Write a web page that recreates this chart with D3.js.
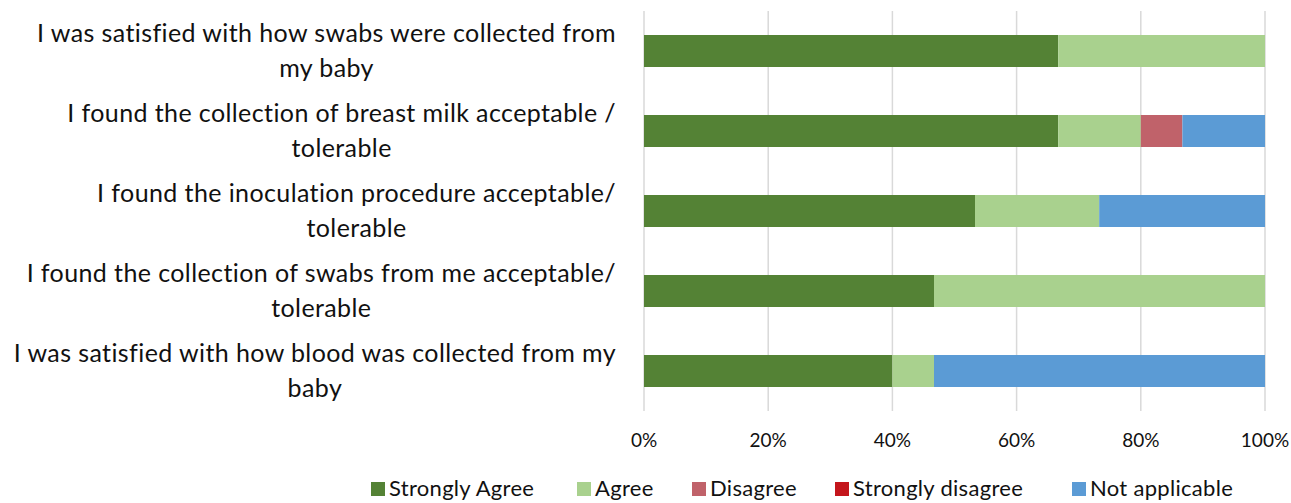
<!DOCTYPE html>
<html>
<head>
<meta charset="utf-8">
<script src="https://cdn.jsdelivr.net/npm/d3@7"></script>
<style>
  body { margin: 0; background: #fff; }
  text { font-family: Lato, "Open Sans", sans-serif; fill: #111; }
</style>
</head>
<body>
<div id="chart"></div>
<script>
var categories = [
  ["I was satisfied with how swabs were collected from", "my baby"],
  ["I found the collection of breast milk acceptable /", "tolerable"],
  ["I found the inoculation procedure acceptable/", "tolerable"],
  ["I found the collection of swabs from me acceptable/", "tolerable"],
  ["I was satisfied with how blood was collected from my", "baby"]
];
var seriesNames = ["Strongly Agree", "Agree", "Disagree", "Strongly disagree", "Not applicable"];
var stronglyAgree    = [66.7, 66.7, 53.3, 46.7, 40.0];
var agree            = [33.3, 13.3, 20.0, 53.3, 6.7];
var disagree         = [0, 6.7, 0, 0, 0];
var stronglyDisagree = [0, 0, 0, 0, 0];
var notApplicable    = [0, 13.3, 26.7, 0, 53.3];
var xTicks = [0, 20, 40, 60, 80, 100];
var colors = ["#548235", "#a9d18e", "#c0626a", "#c4161c", "#5b9bd5"];

var svg = d3.select("#chart").append("svg")
  .attr("width", 1291)
  .attr("height", 503);

var x = d3.scaleLinear().domain([0, 100]).range([644, 1265]);
var y = d3.scaleBand()
  .domain(d3.range(categories.length))
  .range([11, 411])
  .paddingInner(0.6)
  .paddingOuter(0.3);

var table = categories.map(function(c, i) {
  return {
    idx: i,
    "Strongly Agree": stronglyAgree[i],
    "Agree": agree[i],
    "Disagree": disagree[i],
    "Strongly disagree": stronglyDisagree[i],
    "Not applicable": notApplicable[i]
  };
});
var stacked = d3.stack().keys(seriesNames)(table);

// gridlines
svg.append("g").selectAll("line").data(xTicks).enter().append("line")
  .attr("x1", function(d) { return x(d); })
  .attr("x2", function(d) { return x(d); })
  .attr("y1", 11)
  .attr("y2", 411)
  .style("stroke", "#d9d9d9")
  .style("stroke-width", 1.5);

// bars
svg.append("g").selectAll("g").data(stacked).enter().append("g")
  .attr("fill", function(d, i) { return colors[i]; })
  .selectAll("rect").data(function(d) { return d; }).enter().append("rect")
  .attr("x", function(d) { return x(d[0]); })
  .attr("width", function(d) { return x(d[1]) - x(d[0]); })
  .attr("y", function(d) { return y(d.data.idx); })
  .attr("height", y.bandwidth());

// x tick labels
svg.append("g").selectAll("text").data(xTicks).enter().append("text")
  .attr("x", function(d) { return x(d); })
  .attr("y", 447)
  .attr("text-anchor", "middle")
  .style("font-size", "19px")
  .text(function(d) { return d + "%"; });

// category labels: first line right aligned, second centred under it
var labelRight = 616;
var labels = svg.append("g").selectAll("g").data(categories).enter().append("g");
labels.each(function(lines, i) {
  var g = d3.select(this);
  var cy = y(i) + y.bandwidth() / 2;
  var t1 = g.append("text")
    .attr("y", cy - 9)
    .style("font-size", "25px")
    .style("letter-spacing", "0.4px")
    .text(lines[0]);
  var w = t1.node().getComputedTextLength();
  var cx = labelRight - w / 2;
  t1.attr("x", cx).attr("text-anchor", "middle");
  g.append("text")
    .attr("x", cx)
    .attr("y", cy + 26)
    .attr("text-anchor", "middle")
    .style("font-size", "25px")
    .style("letter-spacing", "0.4px")
    .text(lines[1]);
});

// legend
var legendX = [371, 577, 692, 835, 1072];
var legend = svg.append("g").selectAll("g").data(seriesNames).enter().append("g")
  .attr("transform", function(d, i) { return "translate(" + legendX[i] + ",482)"; });
legend.append("rect")
  .attr("width", 14)
  .attr("height", 14)
  .attr("fill", function(d, i) { return colors[i]; });
legend.append("text")
  .attr("x", 18)
  .attr("y", 14)
  .style("font-size", "22px")
  .style("letter-spacing", "0.3px")
  .text(function(d) { return d; });
</script>
</body>
</html>
